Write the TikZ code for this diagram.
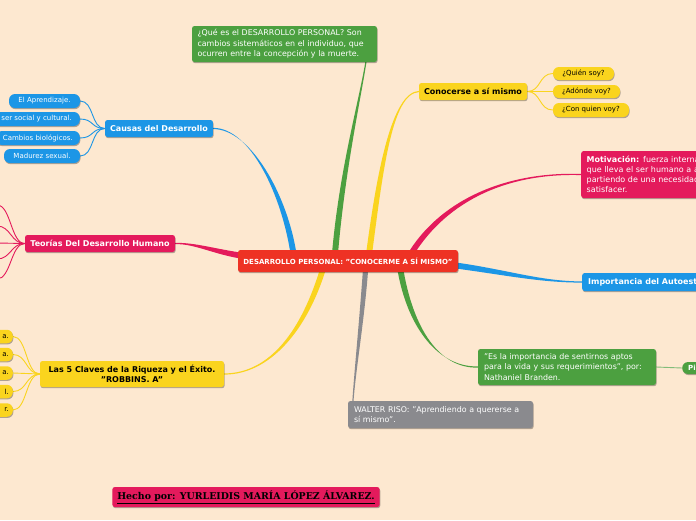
\documentclass[tikz,border=0pt]{standalone}
\usepackage{fontspec}
\setmainfont{DejaVu Sans}
\newfontfamily\slabfont{DejaVu Serif}
\usetikzlibrary{shadows,calc}
\definecolor{bgc}{RGB}{253,232,208}
\definecolor{cred}{RGB}{238,50,36}
\definecolor{cgreen}{RGB}{76,160,64}
\definecolor{cyel}{RGB}{250,212,30}
\definecolor{cblue}{RGB}{28,150,230}
\definecolor{ccrim}{RGB}{228,26,92}
\definecolor{cgray}{RGB}{138,138,142}
\pgfdeclarelayer{background}
\pgfdeclarelayer{connectors}
\pgfsetlayers{background,connectors,main}
\newcommand\taper[7]{\fill[#1] ($(#2)+(#6)$) .. controls ($(#3)+(#6)$) and ($(#4)+(#7)$) .. ($(#5)+(#7)$) -- ($(#5)-(#7)$) .. controls ($(#4)-(#7)$) and ($(#3)-(#6)$) .. ($(#2)-(#6)$) -- cycle;}
\tikzset{
  box/.style={rounded corners=2.5pt, inner ysep=0pt, inner xsep=5pt,
    drop shadow={shadow xshift=0.6pt, shadow yshift=-1.2pt, opacity=0.3, fill=black}},
  pill/.style={box, rounded corners=6pt},
  small/.style={font=\fontsize{7.0}{8}\selectfont},
  mid/.style={font=\bfseries\fontsize{8.0}{9}\selectfont},
  para/.style={font=\fontsize{7.9}{10.4}\selectfont, align=left},
  kid/.style={line width=0.9pt, line cap=round},
}
\begin{document}
\begin{tikzpicture}[x=1pt,y=-1pt]
\useasboundingbox (0,0) rectangle (696,520);
\begin{pgfonlayer}{background}
\fill[bgc] (0,0) rectangle (696,520);
\end{pgfonlayer}
\clip (0,0) rectangle (696,520);
% central node
\node[box, fill=cred, text=white, minimum width=220pt, minimum height=22pt,
  font=\bfseries\fontsize{7.0}{8}\selectfont] (c) at (348,261)
  {DESARROLLO PERSONAL: "CONOCERME A SÍ MISMO"};
% main branches
\node[box, fill=cgreen, text=white, para, text width=174pt, inner xsep=5.5pt, minimum height=36pt] (q) at (284.5,44)
  {¿Qué es el DESARROLLO PERSONAL? Son\\cambios sistemáticos en el individuo, que\\ocurren entre la concepción y la muerte.};
\node[box, fill=cyel, text=black, mid, minimum width=108pt, minimum height=17pt] (k) at (473,91.5) {Conocerse a sí mismo};
\node[pill, fill=cyel, small, minimum width=61pt, minimum height=13pt] (k1) at (583.5,73.5) {¿Quién soy?};
\node[pill, fill=cyel, small, minimum width=67pt, minimum height=13pt] (k2) at (586.5,91.5) {¿Adónde voy?};
\node[pill, fill=cyel, small, minimum width=76pt, minimum height=14pt] (k3) at (591,110) {¿Con quien voy?};
\node[box, fill=ccrim, text=white, anchor=west, text width=170pt, inner xsep=5.5pt, minimum height=47pt,
  font=\fontsize{8.0}{10}\selectfont, align=left] (m) at (581,174.5)
  {\textbf{Motivación:} fuerza interna\\que lleva el ser humano a actuar,\\partiendo de una necesidad por\\satisfacer.};
\node[box, fill=cblue, text=white, mid, anchor=west, minimum height=18pt, inner xsep=6pt] (i) at (582,282) {Importancia del Autoestima};
\node[box, fill=cgreen, text=white, para, text width=166pt, inner xsep=6pt, minimum height=36pt] (n) at (567,367)
  {"Es la importancia de sentirnos aptos\\para la vida y sus requerimientos", por:\\Nathaniel Branden.};
\node[pill, fill=cgreen, text=white, anchor=west, minimum height=12pt, inner xsep=6pt, font=\bfseries\fontsize{7}{8}\selectfont] (p) at (682,368) {Pilares de la autoestima};
\node[box, fill=cgray, text=white, para, text width=173pt, inner xsep=6pt, minimum height=27pt] (w) at (440.5,414.5)
  {WALTER RISO: "Aprendiendo a quererse a\\sí mismo".};
\node[box, fill=cblue, text=white, mid, minimum width=106pt, minimum height=17pt] (a) at (159,128.5) {Causas del Desarrollo};
\node[pill, fill=cblue, text=white, small, minimum width=71pt, minimum height=14pt] (a1) at (44.5,101) {El Aprendizaje.};
\node[pill, fill=cblue, text=white, small, anchor=east, minimum height=14pt, inner xsep=8pt] (a2) at (80,119) {El ser social y cultural.};
\node[pill, fill=cblue, text=white, small, anchor=east, minimum height=14pt, inner xsep=7pt] (a3) at (80,138) {Cambios biológicos.};
\node[pill, fill=cblue, text=white, small, minimum width=76pt, minimum height=14pt] (a4) at (42,156) {Madurez sexual.};
\node[box, fill=ccrim, text=white, mid, minimum width=150pt, minimum height=17pt] (t) at (100,243.5) {Teorías Del Desarrollo Humano};
\coordinate (t1) at (-3,205);
\coordinate (t2) at (-3,226);
\coordinate (t3) at (-3,243);
\coordinate (t4) at (-3,259);
\coordinate (t5) at (-3,279);
\node[box, fill=cyel, text=black, minimum width=184pt, minimum height=26pt, align=center,
  font=\bfseries\fontsize{8.0}{9.5}\selectfont] (r) at (132,374)
  {Las 5 Claves de la Riqueza y el Éxito.\\"ROBBINS. A"};
\foreach \n/\y/\t in {1/336.5/a., 2/354.5/a., 3/373/a., 4/391.5/l., 5/410/r.}{
  \node[pill, fill=cyel, small, anchor=east, minimum height=13.5pt, text width=40pt, align=right, inner xsep=4pt] (r\n) at (13,\y) {\t};
}
\node[box, fill=ccrim, text=black, minimum width=266pt, minimum height=20pt,
  font=\slabfont\bfseries\fontsize{9.4}{10}\selectfont] (h) at (246,497)
  {\underline{Hecho por: YURLEIDIS MARÍA LÓPEZ ÁLVAREZ.}};
% connectors
\begin{pgfonlayer}{connectors}
\taper{cblue}{$(c.north west)+(56,6)$}{285,195}{250,128}{a.east}{3,0}{0,0.6}
\taper{cgreen}{$(c.north west)+(97,6)$}{342,170}{360,100}{$(q.south east)+(-11,-2)$}{3,0}{0.6,0}
\taper{cyel}{$(c.north west)+(131,6)$}{380,170}{392,93}{k.west}{3,0}{0,0.6}
\taper{ccrim}{$(c.north west)+(172,6)$}{440,205}{500,172}{m.west}{2.5,1.4}{0,0.6}
\taper{cblue}{$(c.east)+(-6,4)$}{505,272}{540,282}{i.west}{0,3}{0,0.6}
\taper{cgreen}{$(c.south west)+(162,-6)$}{410,330}{440,368}{n.west}{3,0}{0,0.6}
\taper{cgray}{$(c.south west)+(128,-6)$}{362,320}{355,370}{$(w.north west)+(5,2)$}{2.6,0}{0.6,0}
\taper{cyel}{$(c.south west)+(86,-6)$}{305,330}{270,374}{r.east}{3,0}{0,0.6}
\taper{ccrim}{$(c.west)+(6,-5)$}{215,252}{195,243}{t.east}{0,3}{0,0.6}
\foreach \k in {k1,k2,k3}{\draw[kid, cyel] (k.east) .. controls +(14,0) and +(-14,0) .. (\k.west);}
\foreach \k in {a1,a2,a3,a4}{\draw[kid, cblue] (a.west) .. controls +(-14,0) and +(14,0) .. (\k.east);}
\foreach \k in {t1,t2,t3,t4,t5}{\draw[kid, ccrim] (t.west) .. controls +(-14,0) and +(14,0) .. (\k);}
\foreach \k in {r1,r2,r3,r4,r5}{\draw[kid, cyel] (r.west) .. controls +(-14,0) and +(14,0) .. (\k.east);}
\draw[kid, cgreen!70] (n.east) -- (p.west);
\end{pgfonlayer}
\end{tikzpicture}
\end{document}
